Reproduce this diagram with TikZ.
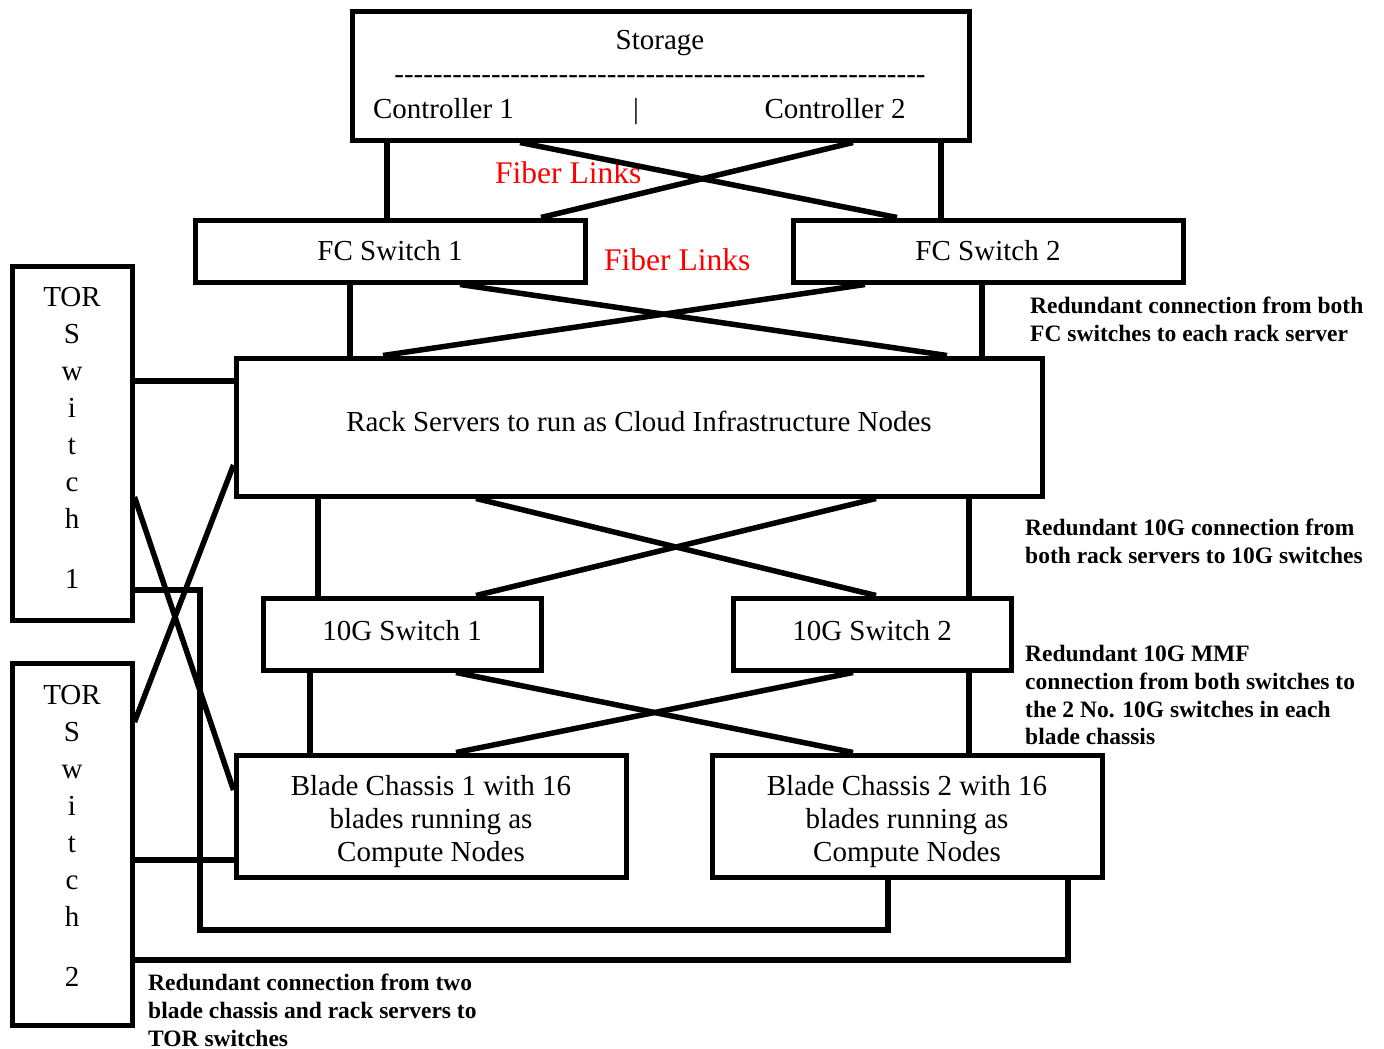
\documentclass[tikz,border=0pt]{standalone}
\usepackage{fontspec}
\setmainfont{Liberation Serif}
\usepackage{tikz}
\tikzset{
  netbox/.style  = {shape=rectangle, draw, line width=5pt, inner sep=0pt,
                    align=center, font=\fontsize{29}{33}\selectfont},
  switchbox/.style = {netbox, minimum width=390pt, minimum height=62pt},
  tengbox/.style = {netbox, minimum width=278pt, minimum height=72pt, text depth=8pt},
  bladebox/.style = {netbox, minimum width=390pt, minimum height=122pt, text height=97pt},
  torbox/.style  = {netbox, minimum width=120pt, font=\fontsize{29}{37}\selectfont},
  plain/.style   = {inner sep=0pt, anchor=base, font=\fontsize{29}{33}\selectfont},
  fiber/.style   = {inner sep=0pt, anchor=base west, text=fiberred,
                    font=\fontsize{31.5}{36}\selectfont},
  note/.style    = {inner sep=0pt, anchor=north west, align=left,
                    font=\fontsize{23.5}{27.8}\selectfont\bfseries},
}
\definecolor{fiberred}{RGB}{255,0,0}

\begin{document}
\begin{tikzpicture}
  [
    x = 1pt, y = -1pt,
    link/.style = {draw, line width=5.5pt},
  ]
  \useasboundingbox (0,0) rectangle (1384,1049);
  % storage and FC switches
  \node [netbox, minimum width=617pt, minimum height=128pt] (stor) at (660.5,76) {};
  \node [plain] (stortitle) at (660,50) {Storage};
  \node [plain] (stordash) at (660,83) {\foreach \k in {1,...,55}{-\kern0pt}};
  \node [plain] (ctrl1) at (443.5,118) {Controller 1};
  \node [plain] (ctrlbar) at (636,118) {|};
  \node [plain] (ctrl2) at (835,118) {Controller 2};
  \node [switchbox] (fc1) at (390,251) {FC Switch 1};
  \node [switchbox] (fc2) at (988,251) {FC Switch 2};
  \node [fiber] (fib1) at (495,183) {Fiber Links};
  \node [fiber] (fib2) at (604,270) {Fiber Links};
  % servers, switches, chassis
  \node [netbox, minimum width=806pt, minimum height=138pt, text depth=12pt] (rack) at (639,427)
    {Rack Servers to run as Cloud Infrastructure Nodes};
  \node [tengbox] (tg1) at (402,634) {10G Switch 1};
  \node [tengbox] (tg2) at (872,634) {10G Switch 2};
  \node [bladebox] (bc1) at (431,816) {Blade Chassis 1 with 16\\blades running as\\Compute Nodes};
  \node [bladebox] (bc2) at (907,816) {Blade Chassis 2 with 16\\blades running as\\Compute Nodes};
  \node [torbox, minimum height=354pt, text depth=10pt] (tor1) at (72,443) {TOR\\S\\w\\i\\t\\c\\h\\[23pt]1};
  \node [torbox, minimum height=362pt, text depth=16pt] (tor2) at (72,844) {TOR\\S\\w\\i\\t\\c\\h\\[23pt]2};
  % notes
  \node [note] (notefc) at (1030,297) {Redundant connection from both\\FC switches to each rack server};
  \node [note] (noterack) at (1025,519) {Redundant 10G connection from\\both rack servers to 10G switches};
  \node [note] (notemmf) at (1025,645) {Redundant 10G MMF\\connection from both switches to\\the 2 No. 10G switches in each\\blade chassis};
  \node [note] (notetor) at (148,974) {Redundant connection from two\\blade chassis and rack servers to\\TOR switches};
  % links
  \draw [link] (stor.south -| 387,0) -- (fc1.north -| 387,0);
  \draw [link] (stor.south -| 941,0) -- (fc2.north -| 941,0);
  \draw [link] (stor.south -| 520,0) -- (fc2.north -| 897,0);
  \draw [link] (stor.south -| 853,0) -- (fc1.north -| 541,0);
  \draw [link] (fc1.south -| 350,0) -- (rack.north -| 350,0);
  \draw [link] (fc2.south -| 982,0) -- (rack.north -| 982,0);
  \draw [link] (fc1.south -| 460,0) -- (rack.north -| 947,0);
  \draw [link] (fc2.south -| 865,0) -- (rack.north -| 383,0);
  \draw [link] (rack.south -| 318,0) -- (tg1.north -| 318,0);
  \draw [link] (rack.south -| 969,0) -- (tg2.north -| 969,0);
  \draw [link] (rack.south -| 476,0) -- (tg2.north -| 876,0);
  \draw [link] (rack.south -| 876,0) -- (tg1.north -| 476,0);
  \draw [link] (tg1.south -| 310,0) -- (bc1.north -| 310,0);
  \draw [link] (tg2.south -| 969,0) -- (bc2.north -| 969,0);
  \draw [link] (tg1.south -| 456,0) -- (bc2.north -| 853,0);
  \draw [link] (tg2.south -| 853,0) -- (bc1.north -| 456,0);
  \draw [link] (tor1.east |- 0,381) -- (rack.west |- 0,381);
  \draw [link] (tor1.east |- 0,497) -- (bc1.west |- 0,790);
  \draw [link] (tor2.east |- 0,722) -- (rack.west |- 0,465);
  \draw [link] (tor2.east |- 0,860) -- (bc1.west |- 0,860);
  \draw [link] (tor1.east |- 0,590) -| (200,930) -| (bc2.south -| 888,0);
  \draw [link] (tor2.east |- 0,960) -| (bc2.south -| 1068,0);
\end{tikzpicture}
\end{document}
